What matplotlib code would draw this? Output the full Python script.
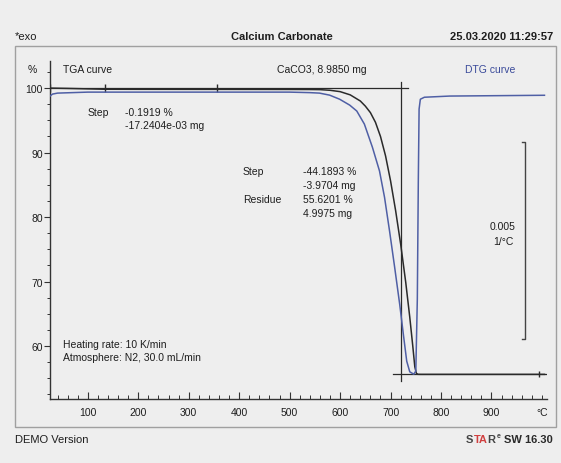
import matplotlib
matplotlib.use("Agg")
import matplotlib.pyplot as plt
from matplotlib.patches import Rectangle
from matplotlib.ticker import MultipleLocator, FixedLocator

plt.rcParams['font.family'] = ['Liberation Sans', 'DejaVu Sans']

# ---- data ----
tga_T = [25, 60, 100, 134, 200, 355, 500, 540, 560, 580, 600, 620, 640, 650, 660, 670,
         680, 690, 700, 710, 720, 730, 738, 744, 748, 751, 754, 760, 850, 1005]
tga_pct = [100.0, 99.95, 99.88, 99.82, 99.81, 99.80, 99.79, 99.78, 99.76, 99.66, 99.45,
           98.95, 98.0, 97.2, 96.2, 94.7, 92.5, 89.5, 85.6, 81.0, 75.8, 69.9, 64.5,
           60.0, 56.8, 55.8, 55.63, 55.62, 55.62, 55.62]

dtg_T = [25, 30, 40, 100, 300, 500, 540, 559, 579, 599, 619, 633, 648, 664, 678, 688,
         698, 708, 718, 726, 732, 738, 746, 750, 753, 755, 756.5, 759, 767, 817, 1005]
dtg_val = [-0.00010, -0.00005, -0.000025, 0.0, 0.0, 0.0, -0.000013, -0.000025,
           -0.000076, -0.00018, -0.00033, -0.00048, -0.00081, -0.0014, -0.0020,
           -0.00267, -0.00353, -0.00444, -0.00538, -0.00622, -0.00683, -0.0071,
           -0.00716, -0.00708, -0.00525, -0.0022, -0.00043, -0.00018, -0.00013,
           -0.0001, -0.00008]

x_ticks = [100, 200, 300, 400, 500, 600, 700, 800, 900]
y_ticks = [60, 70, 80, 90, 100]

step1_limits = [25, 134, 355]
step2_T = 720
baseline_pct = 100.0
residue_pct = 55.62
scale_len = 0.005

W, H = 561, 464
fig = plt.figure(figsize=(W / 100, H / 100), dpi=100)
bg = '#eeeeee'
fig.patch.set_facecolor(bg)

def fx(px):
    return px / W

def fy(py):
    return 1 - py / H

# frame
fig.patches.append(Rectangle((fx(15), fy(428)), fx(556) - fx(15), fy(47) - fy(428),
                             transform=fig.transFigure, fill=False,
                             edgecolor='#a0a0a0', lw=1.0))

ax = fig.add_axes([fx(50), fy(400), fx(547) - fx(50), fy(62) - fy(400)])
ax.set_facecolor('none')
ax.set_xlim(25, 1010)
ax.set_ylim(51.8, 104.2)
for s in ['top', 'right']:
    ax.spines[s].set_visible(False)
for s in ['left', 'bottom']:
    ax.spines[s].set_color('#333333')
    ax.spines[s].set_linewidth(1.0)

tc = '#1e1e1e'
ax.xaxis.set_major_locator(FixedLocator(x_ticks))
ax.xaxis.set_minor_locator(MultipleLocator(20))
ax.yaxis.set_major_locator(FixedLocator(y_ticks))
ax.yaxis.set_minor_locator(MultipleLocator(2.5))
ax.tick_params(axis='x', which='major', direction='in', length=5, width=0.8,
               colors='#333333', labelsize=7.5, labelcolor=tc, pad=6)
ax.tick_params(axis='x', which='minor', direction='in', length=3, width=0.7, colors='#333333')
ax.tick_params(axis='y', which='major', direction='out', length=4, width=0.8,
               colors='#333333', labelsize=7.5, labelcolor=tc, pad=1)
ax.tick_params(axis='y', which='minor', direction='out', length=2.5, width=0.7, colors='#333333')
ax.set_xticklabels([str(v) for v in x_ticks])
ax.set_yticklabels([str(v) for v in y_ticks])

# TGA curve
ax.plot(tga_T, tga_pct, color='#2a2a2a', lw=1.1, zorder=4)

# step lines
ax.plot([25, 734], [baseline_pct, baseline_pct], color='#2a2a2a', lw=0.9, zorder=3)
ax.plot([step2_T, step2_T], [100.9, 54.6], color='#2a2a2a', lw=0.9, zorder=3)
ax.plot([704, 1009], [residue_pct, residue_pct], color='#2a2a2a', lw=0.9, zorder=3)
ax.plot(step1_limits, [baseline_pct] * 3, linestyle='none', marker='|',
        markersize=6, color='#2a2a2a', mew=1.0)
ax.plot([995], [residue_pct], linestyle='none', marker='|', markersize=5, color='#2a2a2a')

# DTG on twin axis
ax2 = ax.twinx()
ax2.set_ylim(-0.00779, 0.00079)
ax2.axis('off')
blue = '#4f5fa5'
ax2.plot(dtg_T, dtg_val, color=blue, lw=1.1, zorder=5)

# scale bracket
bx = 966
btop = -0.00127
ax2.plot([bx - 6, bx, bx, bx - 6], [btop, btop, btop - scale_len, btop - scale_len],
         color='#444444', lw=1.0)

# texts
fs = 7.5
def t(px, py, s, ha='left', color=tc, **kw):
    return fig.text(fx(px), fy(py), s, ha=ha, va='center',
                    fontsize=kw.pop('fontsize', fs), color=color, **kw)

t(15, 37, '*exo', fontsize=8)
t(282, 37, 'Calcium Carbonate', ha='center', fontsize=8, weight='bold')
t(553, 37, '25.03.2020 11:29:57', ha='right', fontsize=8, weight='bold')

t(28, 70, '%')
t(63, 70, 'TGA curve')
t(322, 70, 'CaCO3, 8.9850 mg', ha='center')
t(490, 70, 'DTG curve', ha='center', color='#3a4a9a')

t(88, 113, 'Step')
t(125, 113, '-0.1919 %')
t(125, 126, '-17.2404e-03 mg')

t(243, 172, 'Step')
t(303, 172, '-44.1893 %')
t(303, 186, '-3.9704 mg')
t(243, 200, 'Residue')
t(303, 200, '55.6201 %')
t(303, 214, '4.9975 mg')

t(503, 227, '0.005', ha='center')
t(503, 242, '1/°C', ha='center')

t(63, 345, 'Heating rate: 10 K/min')
t(63, 358, 'Atmosphere: N2, 30.0 mL/min')

t(542, 413, '°C', ha='center')

t(15, 440, 'DEMO Version', fontsize=8)

# STAR^e SW 16.30, laid out right-to-left by measured widths
renderer = fig.canvas.get_renderer()
parts = [('SW 16.30', '#2a2a2a', 8, 0, 4), ('e', '#444444', 5, -3, 1),
         ('R', '#444444', 8, 0, 0), ('TA', '#d04040', 8, 0, 0), ('S', '#444444', 8, 0, 0)]
xr = 553
for s, c, size, dy, gap in parts:
    txt = t(xr, 440 + dy, s, ha='right', color=c, fontsize=size, weight='bold')
    wpx = txt.get_window_extent(renderer).width
    xr -= wpx + gap

fig.savefig('out.png', dpi=100, facecolor=bg)
